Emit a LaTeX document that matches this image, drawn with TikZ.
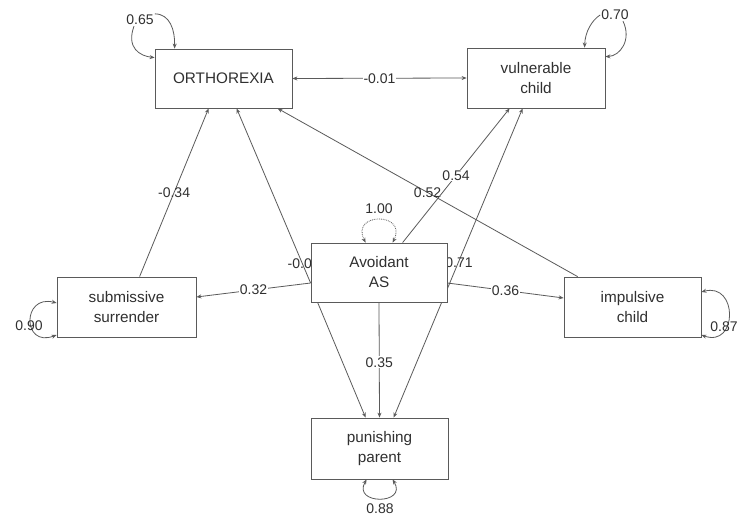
\documentclass[tikz,border=0pt]{standalone}
\usepackage{fontspec}
\setmainfont{Liberation Sans}
\usetikzlibrary{arrows.meta}
\definecolor{ln}{HTML}{5A5A5A}
\definecolor{tx}{HTML}{303030}
\pgfdeclarelayer{bg}
\pgfsetlayers{bg,main}
\tikzset{
  box/.style={draw=ln, line width=0.8pt, fill=white, minimum width=#1, text=tx,
    align=center, inner sep=2pt, font=\fontsize{15.3}{20}\selectfont},
  box/.default=137pt,
  num/.style={text=tx, font=\fontsize{14}{16}\selectfont, inner sep=1pt},
  numw/.style={num, fill=white},
  arr/.style={draw=ln, line width=0.8pt, -{Stealth[length=5pt,width=4pt]}},
  barr/.style={draw=ln, line width=0.8pt, {Stealth[length=5pt,width=4pt]}-{Stealth[length=5pt,width=4pt]}},
}
\begin{document}
\begin{tikzpicture}[x=1pt,y=-1pt]
\useasboundingbox (0,0) rectangle (742,518);
\clip (0,0) rectangle (742,518);
% boxes
\node[box=137pt, minimum height=59pt] (orth) at (223.5,78.5) {ORTHOREXIA};
\node[box=138pt, minimum height=60pt] (vuln) at (536,78) {vulnerable\\child};
\node[box=139pt, minimum height=60pt] (subm) at (126.5,307) {submissive\\surrender};
\node[box=136pt, minimum height=59pt] (avoid) at (379,272.5) {Avoidant\\AS};
\node[box=137pt, minimum height=60pt] (impul) at (632.5,307) {impulsive\\child};
\node[box=137pt, minimum height=61pt] (punish) at (379.5,448.5) {punishing\\parent};
\begin{pgfonlayer}{bg}
\fill[white] (0,0) rectangle (742,518);
% structural paths
\draw[barr] (orth.east) -- node[numw]{-0.01} (vuln.west);
\draw[arr] ([xshift=83pt]subm.north west) -- node[num]{-0.34} ([xshift=54pt]orth.south west);
\draw[arr] ([yshift=-10.5pt]avoid.west) -- ([xshift=82pt]orth.south west);
\node[num, anchor=east] (lav) at (313,264) {-0.0};
\draw[arr] ([xshift=14pt]impul.north west) -- node[num]{0.52} ([xshift=123pt]orth.south west);
\draw[arr] ([xshift=92pt]avoid.north west) -- node[numw]{0.54} ([xshift=43pt]vuln.south west);
\draw[barr] ([xshift=56pt]vuln.south west) -- ([xshift=83pt]punish.north west);
\node[num] (l71) at (459,263) {0.71};
\draw[arr] ([xshift=7pt]avoid.south west) -- ([xshift=55pt]punish.north west);
\draw[arr] (avoid.south) -- node[numw, pos=0.52]{0.35} (punish.north);
\draw[arr] ([yshift=-10.5pt]avoid.west) -- node[numw]{0.32} ([yshift=10pt]subm.east);
\draw[arr] ([yshift=-10.5pt]avoid.east) -- node[numw]{0.36} ([yshift=9pt]impul.west);
% variances
\node[num] (v65) at (140,20) {0.65};
\draw[arr] (v65.north east) .. controls (170,14) and (175,30) .. ([xshift=20pt]orth.north west);
\draw[arr] ([xshift=-6pt]v65.south) .. controls (126,48) and (140,56) .. ([yshift=-9pt]orth.north west);
\node[num] (v70) at (615,15) {0.70};
\draw[arr] (v70.west) .. controls (592,20) and (585,32) .. ([xshift=118pt]vuln.north west);
\draw[arr] ([xshift=8pt]v70.south) .. controls (632,40) and (620,56) .. ([yshift=-9pt]vuln.north east);
\draw[barr] ([yshift=4pt]subm.west) .. controls (22,294) and (22,348) .. ([yshift=-28pt]subm.west);
\node[num] (v90) at (29,326) {0.90};
\draw[barr] ([yshift=15pt]impul.east) .. controls (738,282) and (738,348) .. ([yshift=-28pt]impul.east);
\node[num] (v87) at (724,327) {0.87};
\draw[barr, densely dotted] ([xshift=55pt]avoid.north west) .. controls (350,212) and (408,212) .. ([xshift=82pt]avoid.north west);
\node[numw] (v100) at (379,209) {1.00};
\draw[barr] ([xshift=56pt]punish.south west) .. controls (352,505) and (408,505) .. ([xshift=82pt]punish.south west);
\node[numw] (v88) at (380,509) {0.88};
\end{pgfonlayer}
\end{tikzpicture}
\end{document}
